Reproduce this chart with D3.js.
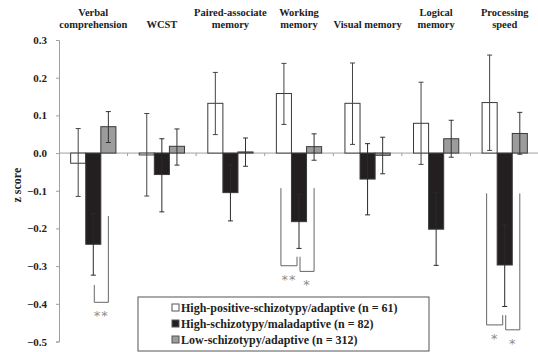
<!DOCTYPE html>
<html>
<head>
<meta charset="utf-8">
<script src="https://cdn.jsdelivr.net/npm/d3@7"></script>
<style>
  body { margin: 0; background: #fff; }
  svg { display: block; font-family: "Liberation Serif", "Times New Roman", serif; font-weight: bold; }
</style>
</head>
<body>
<div id="chart"></div>
<script>
// DATA
const categories = ["Verbal comprehension", "WCST", "Paired-associate memory", "Working memory",
  "Visual memory", "Logical memory", "Processing speed"];
const categoryLabels = [["Verbal", "comprehension"], ["WCST"], ["Paired-associate", "memory"],
  ["Working", "memory"], ["Visual memory"], ["Logical", "memory"], ["Processing", "speed"]];

const seriesNames = ["High-positive-schizotypy/adaptive (n = 61)",
  "High-schizotypy/maladaptive (n = 82)", "Low-schizotypy/adaptive (n = 312)"];

// mean z scores per category
const positiveAdaptive = [-0.027, -0.005, 0.132, 0.158, 0.132, 0.079, 0.134];
const maladaptive      = [-0.242, -0.057, -0.105, -0.182, -0.069, -0.202, -0.297];
const lowAdaptive      = [0.070, 0.018, 0.003, 0.017, -0.006, 0.038, 0.052];

// error bar ends (low, high)
const positiveLow  = [-0.115, -0.114, 0.049, 0.076, 0.023, -0.030, 0.007];
const positiveHigh = [0.065, 0.105, 0.214, 0.238, 0.239, 0.188, 0.260];
const malLow       = [-0.324, -0.156, -0.180, -0.253, -0.164, -0.298, -0.407];
const malHigh      = [-0.160, 0.038, -0.030, -0.110, 0.025, -0.105, -0.190];
const lowLow       = [0.028, -0.032, -0.035, -0.019, -0.055, -0.011, -0.003];
const lowHigh      = [0.110, 0.064, 0.040, 0.051, 0.042, 0.087, 0.108];

const yTicks = [0.3, 0.2, 0.1, 0.0, -0.1, -0.2, -0.3, -0.4, -0.5];

// significance brackets: category, series pair, top of each leg, bottom, stars
const brackets = [
  { cat: 0, from: 1, to: 2, topFrom: -0.350, bottom: -0.396, topTo: -0.167, stars: "**" },
  { cat: 3, from: 0, to: 1, topFrom: -0.093, bottom: -0.299, topTo: -0.275, stars: "**" },
  { cat: 3, from: 1, to: 2, topFrom: -0.275, bottom: -0.314, topTo: -0.093, stars: "*" },
  { cat: 6, from: 0, to: 1, topFrom: -0.107, bottom: -0.456, topTo: -0.430, stars: "*" },
  { cat: 6, from: 1, to: 2, topFrom: -0.430, bottom: -0.469, topTo: -0.107, stars: "*" }
];

const series = [
  { name: seriesNames[0], values: positiveAdaptive, lo: positiveLow, hi: positiveHigh, fill: "#ffffff", err: "#444" },
  { name: seriesNames[1], values: maladaptive, lo: malLow, hi: malHigh, fill: "#231f20", err: "#2a2a2a" },
  { name: seriesNames[2], values: lowAdaptive, lo: lowLow, hi: lowHigh, fill: "#9c9c9c", err: "#333" }
];

// LAYOUT
const width = 538, height = 352;
const svg = d3.select("#chart").append("svg")
  .attr("width", width).attr("height", height);

const x0 = d3.scaleBand()
  .domain(categories)
  .range([59, 539])
  .paddingInner(0.34)
  .paddingOuter(0.17);

const x1 = d3.scaleBand()
  .domain(d3.range(series.length))
  .range([0, x0.bandwidth()]);

const y = d3.scaleLinear()
  .domain([-0.5, 0.3])
  .range([341.5, 40]);

// y axis
const yAxis = svg.append("g")
  .attr("transform", "translate(59,0)")
  .call(d3.axisLeft(y).tickValues(yTicks).tickFormat(d3.format(".1f")).tickSize(3));
yAxis.select(".domain").attr("stroke", "#a0a0a0");
yAxis.selectAll(".tick line").attr("stroke", "#a0a0a0");
yAxis.selectAll(".tick text")
  .attr("x", -12)
  .attr("fill", "#222")
  .style("font-family", "Liberation Serif, serif")
  .style("font-weight", "bold")
  .style("font-size", "11px");

svg.append("text")
  .attr("transform", `translate(21,${y(-0.085)}) rotate(-90)`)
  .attr("text-anchor", "middle")
  .attr("fill", "#222")
  .style("font-size", "12px")
  .text("z score");

// zero line with category separators
svg.append("line")
  .attr("x1", 59).attr("x2", 539)
  .attr("y1", y(0)).attr("y2", y(0))
  .attr("stroke", "#a0a0a0");
svg.append("g")
  .selectAll("line")
  .data(categories.slice(1))
  .join("line")
    .attr("x1", (d) => x0(d) - x0.step() * 0.17)
    .attr("x2", (d) => x0(d) - x0.step() * 0.17)
    .attr("y1", y(0)).attr("y2", y(0) + 3)
    .attr("stroke", "#a0a0a0");

// category labels
const labelG = svg.append("g")
  .attr("text-anchor", "middle")
  .attr("fill", "#222")
  .style("font-size", "10.5px");
categoryLabels.forEach((lines, i) => {
  const cx = x0(categories[i]) + x0.bandwidth() / 2;
  const t = labelG.append("text").attr("x", cx);
  const start = lines.length === 1 ? 28 : 16;
  lines.forEach((l, j) => {
    t.append("tspan").attr("x", cx).attr("y", start + j * 12).text(l);
  });
});

// bars
const groups = svg.append("g")
  .selectAll("g")
  .data(series)
  .join("g");

groups.selectAll("rect")
  .data((s, si) => s.values.map((v, i) => ({ v, i, si, fill: s.fill })))
  .join("rect")
    .attr("x", (d) => x0(categories[d.i]) + x1(d.si))
    .attr("width", x1.bandwidth())
    .attr("y", (d) => y(Math.max(0, d.v)))
    .attr("height", (d) => Math.abs(y(d.v) - y(0)))
    .attr("fill", (d) => d.fill)
    .attr("stroke", "#3a3a3a")
    .attr("stroke-width", 1);

// error bars
const errs = svg.append("g")
  .attr("stroke-width", 1);
series.forEach((s, si) => {
  s.values.forEach((v, i) => {
    const cx = x0(categories[i]) + x1(si) + x1.bandwidth() / 2;
    const g = errs.append("g").attr("stroke", s.err);
    g.append("line").attr("x1", cx).attr("x2", cx).attr("y1", y(s.lo[i])).attr("y2", y(s.hi[i]));
    g.append("line").attr("x1", cx - 2.5).attr("x2", cx + 2.5).attr("y1", y(s.lo[i])).attr("y2", y(s.lo[i]));
    g.append("line").attr("x1", cx - 2.5).attr("x2", cx + 2.5).attr("y1", y(s.hi[i])).attr("y2", y(s.hi[i]));
  });
});

// significance brackets
const barCenter = (cat, si) => x0(categories[cat]) + x1(si) + x1.bandwidth() / 2;
const brG = svg.append("g");
brackets.forEach((b) => {
  const xa = barCenter(b.cat, b.from) + (b.from === 1 ? 1 : -3);
  const xb = barCenter(b.cat, b.to) + (b.to === 1 ? -2 : 0);
  brG.append("path")
    .attr("d", `M${xa},${y(b.topFrom)}V${y(b.bottom)}H${xb}V${y(b.topTo)}`)
    .attr("fill", "none")
    .attr("stroke", "#666")
    .attr("stroke-width", 1);
  brG.append("text")
    .attr("x", (xa + xb) / 2)
    .attr("y", y(b.bottom) + 18)
    .attr("text-anchor", "middle")
    .attr("fill", "#8f8c86")
    .style("font-family", "DejaVu Sans, sans-serif")
    .style("font-weight", "normal")
    .style("font-size", "13px")
    .style("letter-spacing", "1px")
    .text(b.stars);
});

// legend
const legend = svg.append("g").attr("transform", "translate(138,297)");
legend.append("rect")
  .attr("width", 291).attr("height", 54)
  .attr("fill", "#fff")
  .attr("stroke", "#555");
const items = legend.selectAll("g.item")
  .data(series)
  .join("g")
    .attr("class", "item")
    .attr("transform", (d, i) => `translate(34,${11 + i * 16})`);
items.append("rect")
  .attr("x", 0).attr("y", -4).attr("width", 7).attr("height", 7)
  .attr("fill", (d) => d.fill)
  .attr("stroke", "#555");
items.append("text")
  .attr("x", 9).attr("y", 4)
  .attr("fill", "#222")
  .style("font-size", "12px")
  .text((d) => d.name);
</script>
</body>
</html>
